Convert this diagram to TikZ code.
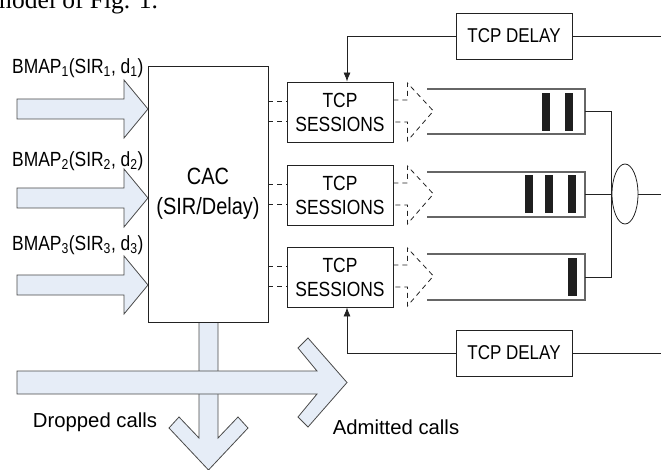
\documentclass[tikz,border=0pt]{standalone}
\usepackage{fontspec}
\setmainfont{Liberation Sans}
\newfontfamily\nfont[FakeStretch=0.85]{Liberation Sans}
\newfontfamily\capfont{Liberation Serif}
\usetikzlibrary{arrows.meta,shapes.geometric}
\definecolor{afill}{HTML}{E6EDF7}
\definecolor{aline}{HTML}{4A4A4A}
\definecolor{bline}{HTML}{222222}
\definecolor{qcol}{HTML}{666666}
\begin{document}
\begin{tikzpicture}[x=1pt,y=-1pt,
  boxline/.style={draw=bline,line width=0.8pt},
  tcpbox/.style={boxline,rectangle,inner sep=0pt,minimum width=106pt,minimum height=60pt,align=center,
    font=\nfont\fontsize{20.5}{24}\selectfont},
  delaybox/.style={boxline,rectangle,inner sep=0pt,minimum width=116pt,minimum height=46pt,
    font=\nfont\fontsize{20}{22}\selectfont},
  cacbox/.style={boxline,rectangle,inner sep=0pt,minimum width=120pt,minimum height=256pt,align=center,
    font=\nfont\fontsize{23.5}{30}\selectfont},
  bigarrow/.style={fill=afill,draw=aline,line width=0.8pt,line join=miter},
  dline/.style={draw=bline,line width=0.8pt,dash pattern=on 5pt off 4pt},
  qline/.style={draw=qcol,line width=1.2pt},
  cline/.style={draw=bline,line width=0.8pt},
  lbl/.style={inner sep=0pt,font=\nfont\fontsize{20.5}{22}\selectfont},
  clbl/.style={inner sep=0pt,font=\fontsize{20.3}{22}\selectfont},
  bar/.style={fill=black!88}
]
\useasboundingbox (0,0) rectangle (661,470);

% clipped caption fragment at the top
\begin{scope}
\clip (0,0) rectangle (661,470);
\node[anchor=base west,inner sep=0pt,font=\capfont\fontsize{25.5}{26}\selectfont] (figcap) at (-8,9) {model of Fig. 1.};
\end{scope}

% input block arrows
\foreach \c in {109,198,285}{
  \draw[bigarrow] (17,\c-10) -- (124,\c-10) -- (124,\c-29) -- (148,\c) -- (124,\c+29) -- (124,\c+10) -- (17,\c+10) -- cycle;
}
\node[lbl,anchor=west] (l1) at (12,68) {BMAP\textsubscript{1}(SIR\textsubscript{1}, d\textsubscript{1})};
\node[lbl,anchor=west] (l2) at (12,161) {BMAP\textsubscript{2}(SIR\textsubscript{2}, d\textsubscript{2})};
\node[lbl,anchor=west] (l3) at (12,245) {BMAP\textsubscript{3}(SIR\textsubscript{3}, d\textsubscript{3})};

% bottom block arrows (vertical below, horizontal on top)
\draw[bigarrow] (199,322) -- (199,438) -- (179,417) -- (169,428) -- (208.5,470) -- (248,428) -- (238,417) -- (218,438) -- (218,322) -- cycle;
\draw[bigarrow] (17,371) -- (317,371) -- (298,348) -- (308,338) -- (347,382.5) -- (308,427) -- (298,417) -- (317,394) -- (17,394) -- cycle;

% CAC
\node[cacbox,fill=white] (cac) at (208,194) {CAC\\(SIR/Delay)};

% TCP sessions
\node[tcpbox] (tcp1) at (340,112) {TCP\\SESSIONS};
\node[tcpbox] (tcp2) at (340,195) {TCP\\SESSIONS};
\node[tcpbox] (tcp3) at (340,277) {TCP\\SESSIONS};

\foreach \t in {tcp1,tcp2,tcp3}{
  \draw[dline] ([yshift=11pt]\t.west -| cac.east) -- ([yshift=11pt]\t.west);
  \draw[dline] ([yshift=-9pt]\t.west -| cac.east) -- ([yshift=-9pt]\t.west);
  \draw[dline] ([yshift=12pt]\t.east) -- ++(14,0) -- ++(0,-17) -- ++(26,28) -- ++(-26,30) -- ++(0,-19) -- ++(-14,0);
}

% queues
\draw[qline] (427,89) -- (585,89) -- (585,134) -- (427,134);
\draw[qline] (427,172) -- (585,172) -- (585,217) -- (427,217);
\draw[qline] (427,254) -- (585,254) -- (585,300) -- (427,300);
\coordinate (q1) at (585,111);
\coordinate (q2) at (585,194);
\coordinate (q3) at (585,277);
\fill[bar] (542,93) rectangle (550,131);
\fill[bar] (565,93) rectangle (573,131);
\fill[bar] (525,175) rectangle (533,213);
\fill[bar] (545,175) rectangle (553,213);
\fill[bar] (568,175) rectangle (576,213);
\fill[bar] (568,258) rectangle (577,296);

% multiplexer
\node[cline,ellipse,inner sep=0pt,minimum width=26pt,minimum height=60pt] (mux) at (625,194) {};
\coordinate (outr) at (661,194);
\draw[cline] (q1) -- (q1 -| mux.west) -- (q3 -| mux.west) -- (q3);
\draw[cline] (q2) -- (mux.west);
\draw[cline] (mux.east) -- (outr);

% TCP delay loops
\node[delaybox] (dtop) at (514,36) {TCP DELAY};
\node[delaybox] (dbot) at (514,353) {TCP DELAY};
\coordinate (dtopR) at (661,36);
\coordinate (dbotR) at (661,353);
\draw[cline] (dtop.east) -- (dtopR);
\draw[cline] (dbot.east) -- (dbotR);
\draw[cline,-{Latex[length=9pt,width=7pt]}] (dtop.west) -| ([xshift=7pt]tcp1.north);
\draw[cline,-{Latex[length=9pt,width=7pt]}] (dbot.west) -| ([xshift=7pt]tcp3.south);

% bottom labels
\node[clbl] (drop) at (95,422) {Dropped calls};
\node[clbl] (adm) at (396,427) {Admitted calls};
\end{tikzpicture}
\end{document}
